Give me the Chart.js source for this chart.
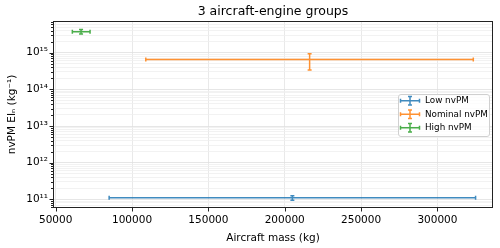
<!DOCTYPE html>
<html><head><meta charset="utf-8">
<script src="https://cdn.jsdelivr.net/npm/chart.js@4.4.1/dist/chart.umd.min.js"></script>
<style>html,body{margin:0;padding:0;background:#fff}#wrap{width:500px;height:248px}</style>
</head><body><div id="wrap"><canvas id="c" width="500" height="248"></canvas></div>
<script>
const groups = ['Low nvPM', 'Nominal nvPM', 'High nvPM'];
const colors = ['#1f77b4', '#ff7f0e', '#2ca02c'];
const massCenter = [205000, 216300, 66600];
const massLow = [85000, 109000, 60900];
const massHigh = [325000, 323500, 72500];
const eiCenter = [1.1e11, 6.5e14, 3.75e15];
const eiLow = [0.95e11, 3.4e14, 3.25e15];
const eiHigh = [1.25e11, 9.4e14, 4.3e15];
const xTicks = [50000, 100000, 150000, 200000, 250000, 300000];
const yDecades = [10, 11, 12, 13, 14, 15];
const titleText = '3 aircraft-engine groups';
const xTitle = 'Aircraft mass (kg)';
const yTitle = 'nvPM EIₙ (kg⁻¹)';

const X_MIN = 48230, X_MAX = 336400, Y_MIN = 5.8e10, Y_MAX = 7.33e15;
const FONT = '"DejaVu Sans", sans-serif';
const SUP = {'0':'⁰','1':'¹','2':'²','3':'³','4':'⁴','5':'⁵','6':'⁶','7':'⁷','8':'⁸','9':'⁹','-':'⁻'};
const sup = n => String(n).split('').map(c => SUP[c]).join('');
const isMajor = v => Math.abs(Math.log10(v) - Math.round(Math.log10(v))) < 1e-9;

const yTickVals = [];
yDecades.forEach(e => { for (let m = 1; m <= 9; m++) { const v = m * Math.pow(10, e); if (v >= Y_MIN && v <= Y_MAX) yTickVals.push(v); } });

const datasets = groups.map((g, i) => ({
  label: g,
  data: [{x: massCenter[i], y: eiCenter[i]}],
  pointRadius: 0,
  borderColor: colors[i],
  backgroundColor: colors[i]
}));

function withAlpha(hex, a) {
  const r = parseInt(hex.slice(1,3),16), g = parseInt(hex.slice(3,5),16), b = parseInt(hex.slice(5,7),16);
  return `rgba(${r},${g},${b},${a})`;
}

function drawErrHandle(ctx, cx, cy, hw, hh, cap, color) {
  ctx.strokeStyle = color;
  ctx.beginPath();
  ctx.moveTo(cx - hw, cy); ctx.lineTo(cx + hw, cy);
  ctx.moveTo(cx - hw, cy - cap); ctx.lineTo(cx - hw, cy + cap);
  ctx.moveTo(cx + hw, cy - cap); ctx.lineTo(cx + hw, cy + cap);
  ctx.moveTo(cx, cy - hh); ctx.lineTo(cx, cy + hh);
  ctx.moveTo(cx - cap, cy - hh); ctx.lineTo(cx + cap, cy - hh);
  ctx.moveTo(cx - cap, cy + hh); ctx.lineTo(cx + cap, cy + hh);
  ctx.stroke();
}

const custom = {
  id: 'custom',
  afterDatasetsDraw(chart) {
    const ctx = chart.ctx, xs = chart.scales.x, ys = chart.scales.y, a = chart.chartArea;
    ctx.save();
    ctx.beginPath(); ctx.rect(a.left, a.top, a.right - a.left, a.bottom - a.top); ctx.clip();
    ctx.lineWidth = 1.5;
    const cap = 2;
    groups.forEach((g, i) => {
      const cx = xs.getPixelForValue(massCenter[i]), cy = ys.getPixelForValue(eiCenter[i]);
      const x1 = xs.getPixelForValue(massLow[i]), x2 = xs.getPixelForValue(massHigh[i]);
      const y1 = ys.getPixelForValue(eiLow[i]), y2 = ys.getPixelForValue(eiHigh[i]);
      ctx.strokeStyle = withAlpha(colors[i], 0.85);
      ctx.beginPath();
      ctx.moveTo(x1, cy); ctx.lineTo(x2, cy);
      ctx.moveTo(x1, cy - cap); ctx.lineTo(x1, cy + cap);
      ctx.moveTo(x2, cy - cap); ctx.lineTo(x2, cy + cap);
      ctx.moveTo(cx, y1); ctx.lineTo(cx, y2);
      ctx.moveTo(cx - cap, y1); ctx.lineTo(cx + cap, y1);
      ctx.moveTo(cx - cap, y2); ctx.lineTo(cx + cap, y2);
      ctx.stroke();
    });
    ctx.restore();

    ctx.save();
    // frame
    ctx.strokeStyle = '#222'; ctx.lineWidth = 1;
    ctx.strokeRect(Math.round(a.left) + 0.5, Math.round(a.top) + 0.5, Math.round(a.right - a.left) - 1, Math.round(a.bottom - a.top) - 1);
    // tick marks
    ctx.beginPath();
    xTicks.forEach(v => { const x = Math.round(xs.getPixelForValue(v)) + 0.5; ctx.moveTo(x, a.bottom); ctx.lineTo(x, a.bottom + 3.5); });
    yTickVals.forEach(v => { const y = Math.round(ys.getPixelForValue(v)) + 0.5; const L = isMajor(v) ? 3.5 : 2; ctx.moveTo(a.left, y); ctx.lineTo(a.left - L, y); });
    ctx.stroke();

    // titles
    ctx.fillStyle = '#000';
    ctx.textAlign = 'center'; ctx.textBaseline = 'alphabetic';
    ctx.font = `12.5px ${FONT}`;
    ctx.fillText(titleText, (a.left + a.right) / 2, 15);
    ctx.font = `10.5px ${FONT}`;
    ctx.fillText(xTitle, (a.left + a.right) / 2, 240.5);
    ctx.save();
    ctx.translate(15, (a.top + a.bottom) / 2);
    ctx.rotate(-Math.PI / 2);
    ctx.fillText(yTitle, 0, 0);
    ctx.restore();

    // legend
    const lx = 398, ly = 94, lw = 91, lh = 42;
    ctx.fillStyle = 'rgba(255,255,255,0.8)';
    ctx.strokeStyle = '#d0d0d0'; ctx.lineWidth = 1;
    ctx.beginPath(); ctx.roundRect(lx + 0.5, ly + 0.5, lw, lh, 2.5); ctx.fill(); ctx.stroke();
    const rows = [100.7, 114.3, 127.7];
    ctx.lineWidth = 1.5;
    groups.forEach((g, i) => {
      drawErrHandle(ctx, 410, rows[i], 9.5, 4.3, 2, withAlpha(colors[i], 0.85));
      ctx.fillStyle = '#000';
      ctx.font = `8.8px ${FONT}`;
      ctx.textAlign = 'left'; ctx.textBaseline = 'middle';
      ctx.fillText(g, 425, rows[i] + 0.5);
    });
    ctx.restore();
  }
};

new Chart(document.getElementById('c'), {
  type: 'scatter',
  data: {datasets},
  plugins: [custom],
  options: {
    responsive: false,
    animation: false,
    devicePixelRatio: 1,
    layout: {padding: {top: 21, right: 7, left: 0, bottom: 0}},
    plugins: {legend: {display: false}, title: {display: false}, tooltip: {enabled: false}},
    scales: {
      x: {
        type: 'linear', min: X_MIN, max: X_MAX,
        afterBuildTicks: s => { s.ticks = xTicks.map(v => ({value: v})); },
        afterFit: s => { s.height = 40; },
        grid: {color: '#e3e3e3', lineWidth: 0.8, drawTicks: false},
        border: {display: false},
        ticks: {autoSkip: false, maxRotation: 0, padding: 6, color: '#000', font: {family: FONT, size: 10.5}, callback: v => String(v)}
      },
      y: {
        type: 'logarithmic', min: Y_MIN, max: Y_MAX,
        afterBuildTicks: s => { s.ticks = yTickVals.map(v => ({value: v, major: isMajor(v)})); },
        afterFit: s => { s.width = 53; },
        grid: {color: c => (c.tick && isMajor(c.tick.value)) ? '#e0e0e0' : '#efefef', lineWidth: 0.8, drawTicks: false},
        border: {display: false},
        ticks: {autoSkip: false, padding: 5, color: '#000', font: {family: FONT, size: 10.5},
          callback: v => isMajor(v) ? '10' + sup(Math.round(Math.log10(v))) : ''}
      }
    }
  }
});
</script></body></html>
